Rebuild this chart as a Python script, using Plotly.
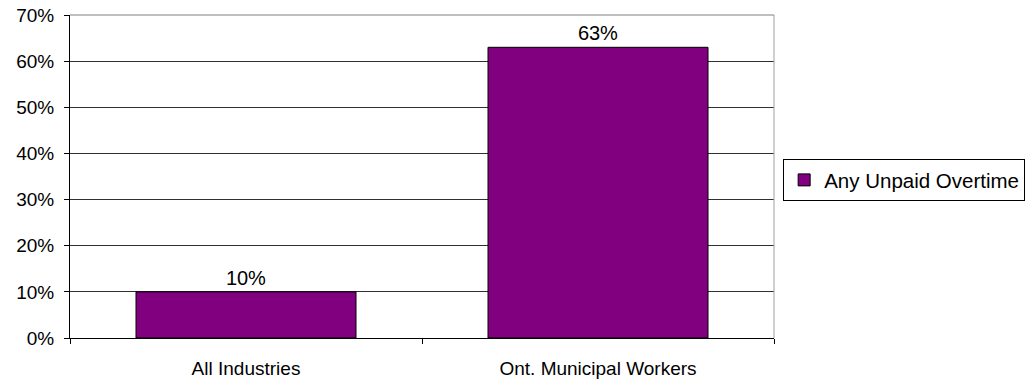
import plotly.graph_objects as go

categories = ["All Industries", "Ont. Municipal Workers"]
values = [0.10, 0.63]
value_labels = ["10%", "63%"]
series_name = "Any Unpaid Overtime"
y_ticks = [0, 0.1, 0.2, 0.3, 0.4, 0.5, 0.6, 0.7]
y_tick_labels = ["0%", "10%", "20%", "30%", "40%", "50%", "60%", "70%"]

FONT = "Liberation Sans, Arial, sans-serif"

fig = go.Figure()
fig.add_trace(go.Bar(
    x=categories, y=values, name=series_name,
    marker=dict(color="#800080", line=dict(color="#000000", width=1)),
    text=value_labels, textposition="outside", cliponaxis=False,
    textfont=dict(size=20, color="#000000", family=FONT),
    showlegend=True,
))

fig.update_layout(
    width=1026, height=386,
    margin=dict(l=70, r=252, t=15, b=48, autoexpand=False),
    paper_bgcolor="white", plot_bgcolor="white",
    bargap=0.375,
    font=dict(family=FONT, size=19, color="#000000"),
    showlegend=True,
    legend=dict(x=1.013, y=0.489, xanchor="left", yanchor="middle",
                bordercolor="#000000", borderwidth=1, bgcolor="white",
                font=dict(size=20.5), itemwidth=30),
    xaxis=dict(showline=True, linecolor="#000000", linewidth=1,
               ticks="outside", tickson="boundaries", ticklen=5,
               tickcolor="#000000", showgrid=False, automargin=False,
               tickfont=dict(size=19), ticklabelstandoff=13),
    yaxis=dict(range=[0, 0.7], tickvals=y_ticks, ticktext=y_tick_labels,
               showline=True, linecolor="#000000", linewidth=1,
               ticks="outside", ticklen=5, tickcolor="#000000",
               showgrid=True, gridcolor="#303030", gridwidth=1,
               zeroline=False, tickfont=dict(size=19), ticklabelstandoff=6,
               ticklabeloverflow="allow", automargin=False),
)
fig.add_shape(type="line", xref="paper", yref="paper", x0=1, x1=1, y0=0, y1=1,
              line=dict(color="#a0a0a0", width=1))
fig.add_shape(type="line", xref="paper", yref="paper", x0=0, x1=1, y0=1, y1=1,
              line=dict(color="#808080", width=1))

fig.write_html("out.html", config={"displayModeBar": False},
               post_script="document.body.style.margin='0';")
